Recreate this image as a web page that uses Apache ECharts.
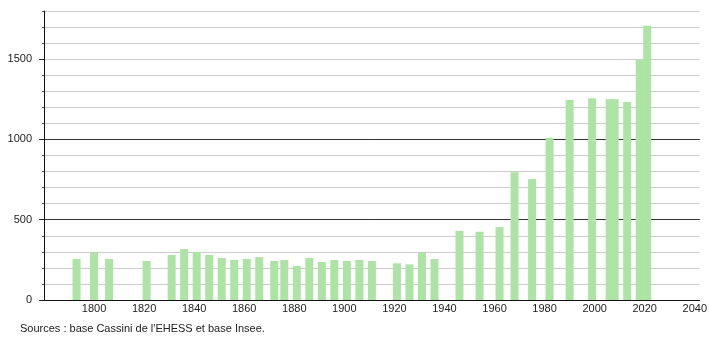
<!DOCTYPE html>
<html>
<head>
<meta charset="utf-8">
<script src="https://cdn.jsdelivr.net/npm/echarts@6/dist/echarts.min.js"></script>
<style>
html,body{margin:0;padding:0;background:#fff;}
#chart{width:710px;height:340px;}
</style>
</head>
<body>
<div id="chart"></div>
<script>
var years = [1793,1800,1806,1821,1831,1836,1841,1846,1851,1856,1861,1866,1872,1876,1881,1886,1891,1896,1901,1906,1911,1921,1926,1931,1936,1946,1954,1962,1968,1975,1982,1990,1999,2006,2008,2013,2018,2021];
var population = [255,298,255,243,280,317,300,280,262,250,255,267,243,249,212,262,237,249,243,249,243,228,222,295,255,431,425,454,796,753,1010,1245,1257,1250,1250,1233,1498,1708];
var yMajorTicks = [0,500,1000,1500];
var xTickLabels = [1800,1820,1840,1860,1880,1900,1920,1940,1960,1980,2000,2020,2040];
var sourceText = "Sources : base Cassini de l'EHESS et base Insee.";

var data = years.map(function(y,i){return [y, population[i]];});
var font = "'Liberation Sans', Arial, sans-serif";
var chart = echarts.init(document.getElementById('chart'), null, {renderer:'canvas'});
chart.setOption({
  animation:false,
  backgroundColor:'#fff',
  grid:{left:44,right:10,top:11,bottom:40},
  graphic:[{type:'text',left:20,top:323,style:{text:sourceText,font:'11px '+font,fill:'#222'}}],
  xAxis:{
    type:'value',min:1780,max:2042,interval:20,
    axisLine:{show:true,onZero:false,lineStyle:{color:'#111',width:1}},
    axisTick:{show:false},
    splitLine:{show:false},
    axisLabel:{margin:3,color:'#222',fontSize:11,fontFamily:font,
      customValues:xTickLabels,
      formatter:function(v){return xTickLabels.indexOf(v)>=0?String(v):'';}}
  },
  yAxis:[{
    type:'value',min:0,max:1800,interval:100,
    axisLine:{show:true,lineStyle:{color:'#111',width:1}},
    axisTick:{show:true,length:2,lineStyle:{color:'#555'}},
    axisLabel:{show:false},
    splitLine:{show:true,lineStyle:{color:'#cccccc',width:1}}
  },{
    type:'value',min:0,max:1800,interval:500,position:'left',
    axisLine:{show:false},
    axisTick:{show:true,length:5,customValues:yMajorTicks,lineStyle:{color:'#222'}},
    axisLabel:{show:true,margin:12,color:'#222',fontSize:11,fontFamily:font,customValues:yMajorTicks,
      formatter:function(v){return String(v);}},
    splitLine:{show:true,showMinLine:true,showMaxLine:false,lineStyle:{color:'#333',width:1}}
  }],
  series:[{
    type:'bar',xAxisIndex:0,yAxisIndex:0,barWidth:8,
    itemStyle:{color:'#ade3a5'},
    data:data
  }]
});
</script>
</body>
</html>
